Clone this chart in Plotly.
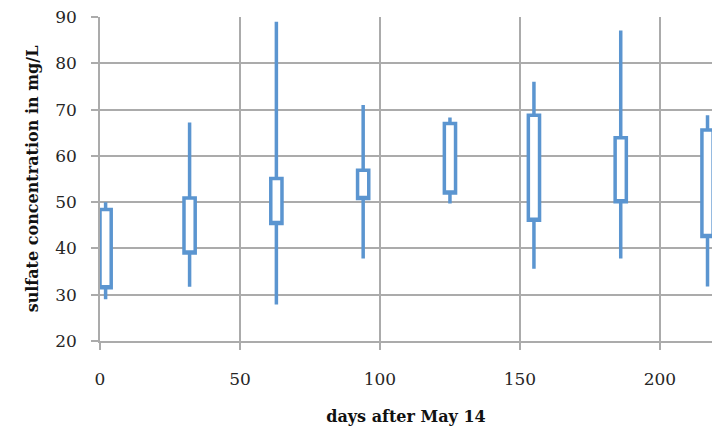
import plotly.graph_objects as go

days = [2, 32, 63, 94, 125, 155, 186, 217]
high = [50.0, 67.2, 89.0, 71.0, 68.3, 76.0, 87.1, 68.8]
box_top = [48.4, 50.9, 55.1, 56.9, 67.0, 68.8, 63.9, 65.6]
box_bottom = [31.5, 39.0, 45.4, 50.8, 52.0, 46.1, 50.1, 42.6]
low = [29.0, 31.7, 27.9, 37.8, 49.7, 35.6, 37.8, 31.8]

blue = "#5B95D0"
grid = "#ABABAB"
font_fam = "DejaVu Serif"

fig = go.Figure()
fig.add_trace(go.Box(
    x=days,
    q1=box_bottom,
    median=box_bottom,
    q3=box_top,
    lowerfence=low,
    upperfence=high,
    width=4.0,
    whiskerwidth=0,
    fillcolor="white",
    line=dict(color=blue, width=3.5),
    boxpoints=False,
    hoverinfo="skip",
    showlegend=False,
))

fig.update_layout(
    width=712, height=427,
    margin=dict(l=100, r=0, t=17, b=86),
    paper_bgcolor="white", plot_bgcolor="white",
    font=dict(family=font_fam, size=17, color="#262626"),
    xaxis=dict(
        range=[0, 218.6], tickvals=[0, 50, 100, 150, 200],
        showgrid=True, gridcolor=grid, gridwidth=1.5,
        zeroline=False, showline=True, linecolor=grid, linewidth=1.5,
        ticks="outside", ticklen=7, tickcolor=grid, tickwidth=1.5,
        ticklabelstandoff=15,
        title=dict(text="<b>days after May 14</b>", standoff=23,
                   font=dict(family=font_fam, size=16, color="#111111")),
    ),
    yaxis=dict(
        range=[20, 90], tickvals=[20, 30, 40, 50, 60, 70, 80, 90],
        showgrid=True, gridcolor=grid, gridwidth=1.5,
        zeroline=False, showline=True, linecolor=grid, linewidth=1.5,
        ticks="outside", ticklen=7, tickcolor=grid, tickwidth=1.5,
        ticklabelstandoff=11,
        title=dict(text="<b>sulfate concentration in mg/L</b>", standoff=13,
                   font=dict(family=font_fam, size=16, color="#111111")),
    ),
)

fig.write_html("out.html")
